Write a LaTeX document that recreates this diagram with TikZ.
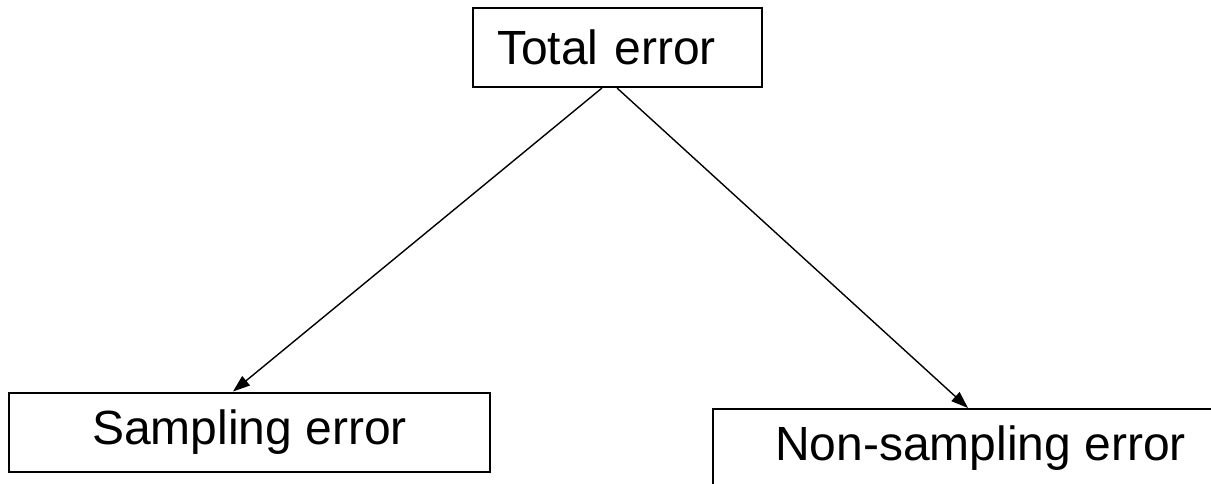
\documentclass[tikz,border=0pt]{standalone}
\usepackage{fontspec}
\setmainfont{Liberation Sans}
\usetikzlibrary{arrows.meta}
\begin{document}
\begin{tikzpicture}[x=1pt,y=-1pt,
  errbox/.style={draw=black,line width=2pt,fill=white,inner sep=0pt,
    minimum height=79pt,font=\fontsize{48}{57}\selectfont},
  link/.style={draw=black,line width=1.4pt,
    -{Triangle[length=17pt,width=12pt]}}]
  \useasboundingbox (0,0) rectangle (1211,484);
  \node[errbox,minimum width=289pt,text width=241pt,align=left,inner xsep=24pt]
    (total) at (617.5,47.5) {Total error};
  \node[errbox,minimum width=481pt] (samp) at (249.5,432) {Sampling error};
  \node[errbox,minimum width=535pt] (nonsamp) at (980.5,448.5) {Non-sampling error};
  \draw[link] ([xshift=-15.5pt]total.south) -- ([xshift=-16.5pt]samp.north);
  \draw[link] ([xshift=-0.5pt]total.south) -- ([xshift=-12.5pt]nonsamp.north);
\end{tikzpicture}
\end{document}
